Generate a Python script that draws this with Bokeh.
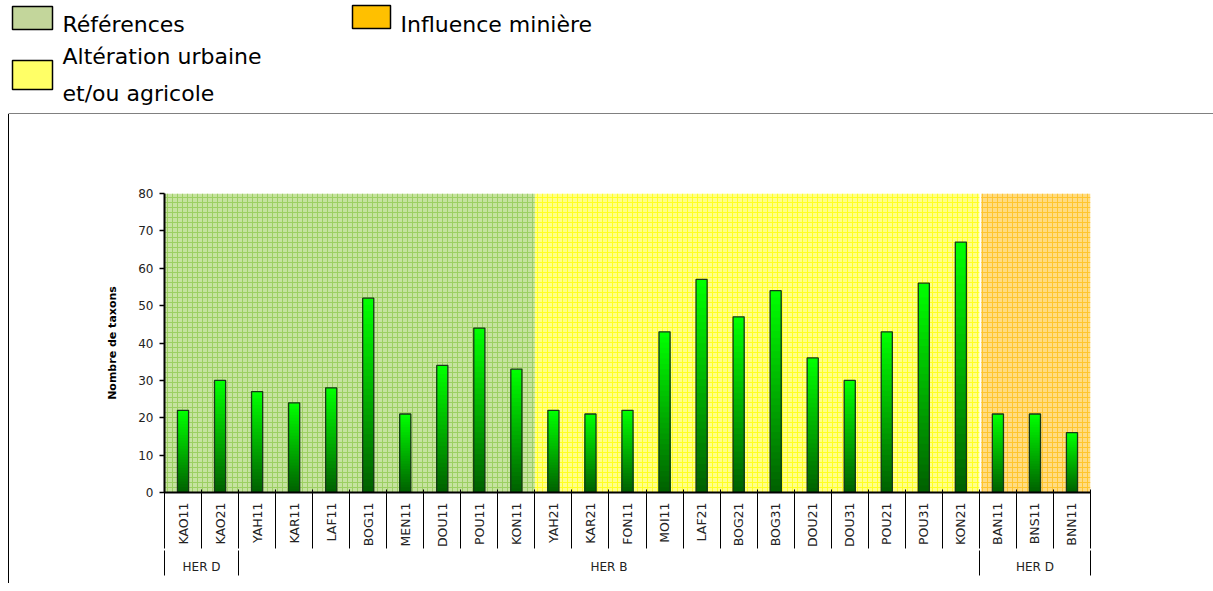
from math import pi
from bokeh.plotting import figure
from bokeh.layouts import column, row
from bokeh.models import Range1d, LinearAxis, FixedTicker, Spacer
from bokeh.core.properties import value
from bokeh.embed import file_html
from bokeh.resources import INLINE

# ---------------- data ----------------
sites = ["KAO11", "KAO21", "YAH11", "KAR11", "LAF11", "BOG11", "MEN11", "DOU11",
         "POU11", "KON11", "YAH21", "KAR21", "FON11", "MOI11", "LAF21", "BOG21",
         "BOG31", "DOU21", "DOU31", "POU21", "POU31", "KON21", "BAN11", "BNS11", "BNN11"]
taxa = [22, 30, 27, 24, 28, 52, 21, 34, 44, 33, 22, 21, 22, 43, 57, 47, 54, 36, 30,
        43, 56, 67, 21, 21, 16]
her_groups = ["HER D", "HER B", "HER D"]
her_sizes = [2, 20, 3]
legend_labels = ["Références", "Influence minière", "Altération  urbaine"]
legend_extra = ["et/ou agricole"]
zone_sizes = [10, 12, 3]
y_ticks = [0, 10, 20, 30, 40, 50, 60, 70, 80]
y_label = "Nombre de taxons"

FONT = "DejaVu Sans"
W = 1213
LH = 114
CH = 469
PAD = 9

# ---------------- legend strip ----------------
leg = figure(width=W, height=LH, x_range=Range1d(0, W), y_range=Range1d(LH, 0),
             output_backend="svg", toolbar_location=None, min_border=0,
             x_axis_type=None, y_axis_type=None, outline_line_color=None)
leg.xgrid.visible = False
leg.ygrid.visible = False

sw_left = [12, 352, 12]
sw_right = [52, 390, 52]
sw_top = [6, 5, 60]
sw_bottom = [29, 28, 89]
sw_color = ["#c3d69b", "#ffc000", "#ffff66"]
leg.quad(left=sw_left, right=sw_right, top=sw_top, bottom=sw_bottom,
         fill_color=sw_color, line_color="black", line_width=1.5)
leg.text(x=[62, 400, 62], y=[24, 24, 56], text=legend_labels,
         text_font=value(FONT), text_font_size="22px", text_color="black",
         text_baseline="alphabetic")
leg.text(x=[62], y=[93], text=legend_extra,
         text_font=value(FONT), text_font_size="22px", text_color="black",
         text_baseline="alphabetic")
leg.segment(x0=[8], y0=[LH - 0.5], x1=[W], y1=[LH - 0.5], line_color="black", line_width=1)

# ---------------- left border line ----------------
pad = Spacer(width=PAD - 1, height=CH)
vline = Spacer(width=1, height=CH, styles={"background-color": "black"})

# ---------------- chart ----------------
n = len(sites)
xs = list(range(n))

p = figure(width=W - PAD, height=CH, x_range=Range1d(-0.5, n - 0.5),
           y_range=Range1d(y_ticks[0], y_ticks[-1]),
           output_backend="svg", toolbar_location=None, x_axis_type=None,
           min_border_left=155, min_border_right=W - PAD - 1081, min_border_top=79,
           min_border_bottom=91, outline_line_color=None)
p.grid.grid_line_color = None

# background zones
starts = []
acc = 0
for s in zone_sizes:
    starts.append(acc)
    acc += s
z_left = [s - 0.5 for s in starts]
z_right = [s + sz - 0.5 for s, sz in zip(starts, zone_sizes)]
z_left[2] += 0.05
z_fill = ["#c6e3a0", "#ffff8a", "#ffdc84"]
z_hatch = ["#9ccf62", "#ffff22", "#ffc52e"]
p.quad(left=z_left, right=z_right, bottom=y_ticks[0], top=y_ticks[-1],
       fill_color=z_fill, line_color=None, hatch_pattern="+", hatch_color=z_hatch,
       hatch_scale=5, hatch_weight=1)

# gradient bars (stacked overlapping bars from bright top to dark bottom)
N = 30
bright = (0, 255, 0)
dark = (0, 98, 0)
for k in range(N):
    frac = (N - k) / N
    t = k / (N - 1)
    c = tuple(int(round(b + (d - b) * t)) for b, d in zip(bright, dark))
    col = "#%02x%02x%02x" % c
    p.vbar(x=xs, top=[v * frac for v in taxa], bottom=0, width=0.3,
           fill_color=col, line_color=None)
p.vbar(x=xs, top=taxa, bottom=0, width=0.3, fill_color=None,
       line_color="#163816", line_width=1.3)

# y axis
p.yaxis.ticker = FixedTicker(ticks=y_ticks, minor_ticks=[])
p.yaxis.major_tick_out = 5
p.yaxis.major_tick_in = 0
p.yaxis.minor_tick_out = 0
p.yaxis.minor_tick_in = 0
p.yaxis.major_tick_line_width = 1.5
p.yaxis.axis_line_width = 2
p.yaxis.axis_line_color = "black"
p.yaxis.major_label_text_font = FONT
p.yaxis.major_label_text_font_size = "12px"
p.yaxis.major_label_text_color = "#222222"
p.yaxis.major_label_standoff = 6
p.yaxis.axis_label = y_label
p.yaxis.axis_label_text_font = FONT
p.yaxis.axis_label_text_font_size = "11px"
p.yaxis.axis_label_text_font_style = "bold"
p.yaxis.axis_label_text_color = "black"
p.yaxis.axis_label_standoff = 16

# x axis level 1: site names
bounds1 = [i - 0.5 for i in range(n + 1)]
ax1 = LinearAxis(ticker=FixedTicker(ticks=xs, minor_ticks=bounds1),
                 major_label_overrides={i: s for i, s in zip(xs, sites)},
                 major_label_orientation=pi / 2,
                 major_tick_out=0, major_tick_in=0,
                 minor_tick_out=56, minor_tick_in=3,
                 minor_tick_line_color="black", minor_tick_line_width=1,
                 axis_line_width=2, axis_line_color="black",
                 major_label_standoff=-46,
                 major_label_text_font=FONT, major_label_text_font_size="12.5px",
                 major_label_text_color="#222222")
p.add_layout(ax1, "below")

# x axis level 2: HER groups
gb = [-0.5]
for s in her_sizes:
    gb.append(gb[-1] + s)
g_centers = [(a + b) / 2 for a, b in zip(gb[:-1], gb[1:])]
ax2 = LinearAxis(ticker=FixedTicker(ticks=g_centers, minor_ticks=gb),
                 major_label_overrides={c: g for c, g in zip(g_centers, her_groups)},
                 major_tick_out=0, major_tick_in=0,
                 minor_tick_out=25, minor_tick_in=0,
                 minor_tick_line_color="black", minor_tick_line_width=1,
                 axis_line_color=None,
                 major_label_standoff=-16,
                 major_label_text_font=FONT, major_label_text_font_size="12px",
                 major_label_text_color="#222222")
p.add_layout(ax2, "below")

layout = column(leg, row(pad, vline, p))
open("out.html", "w").write(file_html(layout, INLINE))
